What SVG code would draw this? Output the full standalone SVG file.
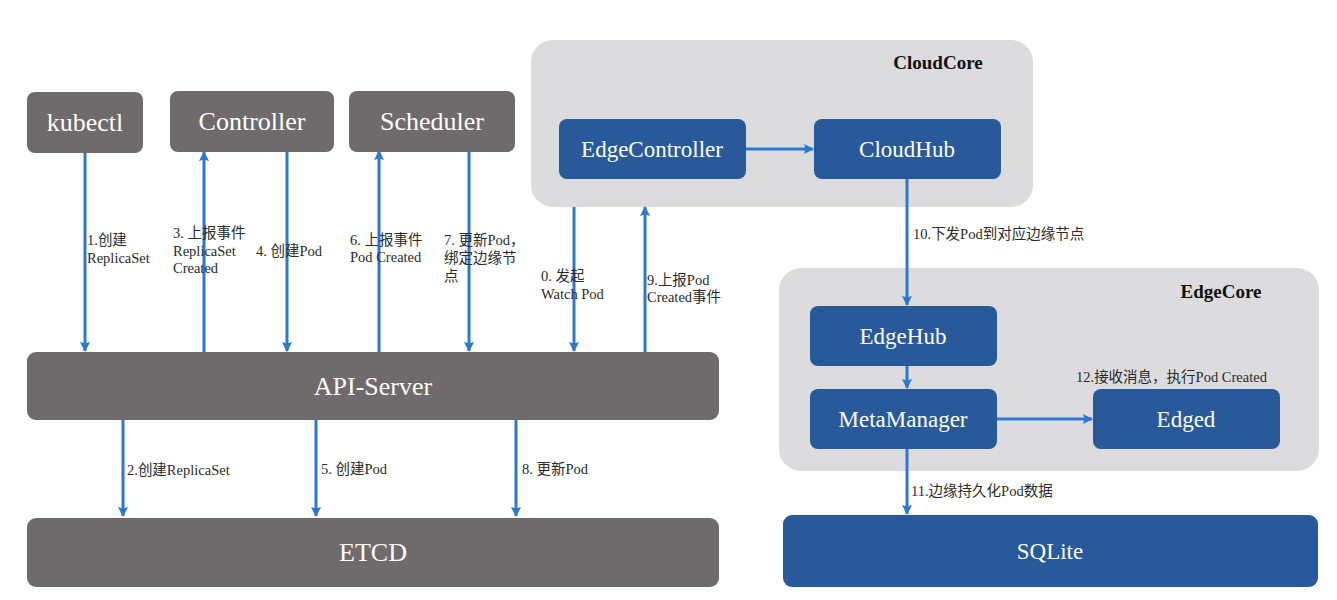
<svg xmlns="http://www.w3.org/2000/svg" width="1337" height="600" viewBox="0 0 1337 600">
<defs>
<marker id="ah" viewBox="0 0 10 10" refX="9" refY="5" markerWidth="10" markerHeight="10" markerUnits="userSpaceOnUse" orient="auto">
<path d="M0,0 L10,5 L0,10 L1.5,5 z" fill="#2a78d2"/>
</marker>
<style>
.gray{fill:#6f6a6b}
.blue{fill:#285a9b}
.cont{fill:#dcdcde}
.nt{font-family:"Liberation Serif",serif;fill:#ffffff;text-anchor:middle}
.big{font-size:26px}
.mid{font-size:23px}
.ct{font-family:"Liberation Serif",serif;font-weight:bold;font-size:19px;fill:#111;text-anchor:middle}
.lb{font-family:"Liberation Serif","Noto Sans CJK SC",serif;font-size:14.5px;fill:#2a2a2a}
.ar{stroke:#2a78d2;stroke-width:3;fill:none;marker-end:url(#ah)}
</style>
</defs>
<rect width="1337" height="600" fill="#ffffff"/>
<g id="cloudcore">
<rect class="cont" x="531" y="40" width="502" height="167" rx="22"/>
<text class="ct" x="938" y="69">CloudCore</text>
</g>
<g id="edgecore">
<rect class="cont" x="779" y="268" width="540" height="203" rx="22"/>
<text class="ct" x="1221" y="298">EdgeCore</text>
</g>
<g id="kubectl"><rect class="gray" x="27" y="92" width="116" height="61" rx="8"/><text class="nt big" x="85" y="131">kubectl</text></g>
<g id="controller"><rect class="gray" x="170" y="91" width="164" height="61" rx="8"/><text class="nt big" x="252" y="130">Controller</text></g>
<g id="scheduler"><rect class="gray" x="349" y="91" width="166" height="61" rx="8"/><text class="nt big" x="432" y="130">Scheduler</text></g>
<g id="apiserver"><rect class="gray" x="27" y="352" width="692" height="68" rx="9"/><text class="nt big" x="373" y="395">API-Server</text></g>
<g id="etcd"><rect class="gray" x="27" y="518" width="692" height="69" rx="9"/><text class="nt big" x="373" y="561">ETCD</text></g>
<g id="edgecontroller"><rect class="blue" x="559" y="119" width="187" height="60" rx="8"/><text class="nt mid" x="652" y="157">EdgeController</text></g>
<g id="cloudhub"><rect class="blue" x="814" y="119" width="187" height="60" rx="8"/><text class="nt mid" x="907" y="157">CloudHub</text></g>
<g id="edgehub"><rect class="blue" x="810" y="306" width="187" height="60" rx="8"/><text class="nt mid" x="903" y="344">EdgeHub</text></g>
<g id="metamanager"><rect class="blue" x="810" y="389" width="187" height="60" rx="8"/><text class="nt mid" x="903" y="427">MetaManager</text></g>
<g id="edged"><rect class="blue" x="1093" y="389" width="187" height="60" rx="8"/><text class="nt mid" x="1186" y="427">Edged</text></g>
<g id="sqlite"><rect class="blue" x="783" y="515" width="535" height="72" rx="9"/><text class="nt mid" x="1050" y="559">SQLite</text></g>
<g id="connectors">
<line class="ar" x1="85" y1="153" x2="85" y2="351"/>
<line class="ar" x1="204" y1="352" x2="204" y2="152"/>
<line class="ar" x1="287" y1="152" x2="287" y2="351"/>
<line class="ar" x1="379" y1="352" x2="379" y2="151"/>
<line class="ar" x1="469" y1="151" x2="469" y2="351"/>
<line class="ar" x1="574" y1="207" x2="574" y2="351"/>
<line class="ar" x1="645" y1="352" x2="645" y2="207"/>
<line class="ar" x1="123" y1="420" x2="123" y2="516"/>
<line class="ar" x1="316" y1="420" x2="316" y2="516"/>
<line class="ar" x1="516" y1="420" x2="516" y2="516"/>
<line class="ar" x1="746" y1="149" x2="813" y2="149"/>
<line class="ar" x1="907" y1="179" x2="907" y2="305"/>
<line class="ar" x1="907" y1="366" x2="907" y2="388"/>
<line class="ar" x1="997" y1="419" x2="1092" y2="419"/>
<line class="ar" x1="907" y1="449" x2="907" y2="514"/>
</g>
<g id="labels">
<text class="lb" x="87" y="245">1.创建</text>
<text class="lb" x="87" y="263">ReplicaSet</text>
<text class="lb" x="173" y="238">3. 上报事件</text>
<text class="lb" x="173" y="256">ReplicaSet</text>
<text class="lb" x="173" y="273">Created</text>
<text class="lb" x="256" y="256">4. 创建Pod</text>
<text class="lb" x="350" y="245">6. 上报事件</text>
<text class="lb" x="350" y="262">Pod Created</text>
<text class="lb" x="444" y="245">7. 更新Pod，</text>
<text class="lb" x="444" y="263">绑定边缘节</text>
<text class="lb" x="444" y="281">点</text>
<text class="lb" x="541" y="281">0. 发起</text>
<text class="lb" x="541" y="299">Watch Pod</text>
<text class="lb" x="647" y="285">9.上报Pod</text>
<text class="lb" x="647" y="302">Created事件</text>
<text class="lb" x="127" y="475">2.创建ReplicaSet</text>
<text class="lb" x="321" y="474">5. 创建Pod</text>
<text class="lb" x="522" y="474">8. 更新Pod</text>
<text class="lb" x="913" y="239">10.下发Pod到对应边缘节点</text>
<text class="lb" x="911" y="496">11.边缘持久化Pod数据</text>
<text class="lb" x="1076" y="382">12.接收消息，执行Pod Created</text>
</g>
</svg>
